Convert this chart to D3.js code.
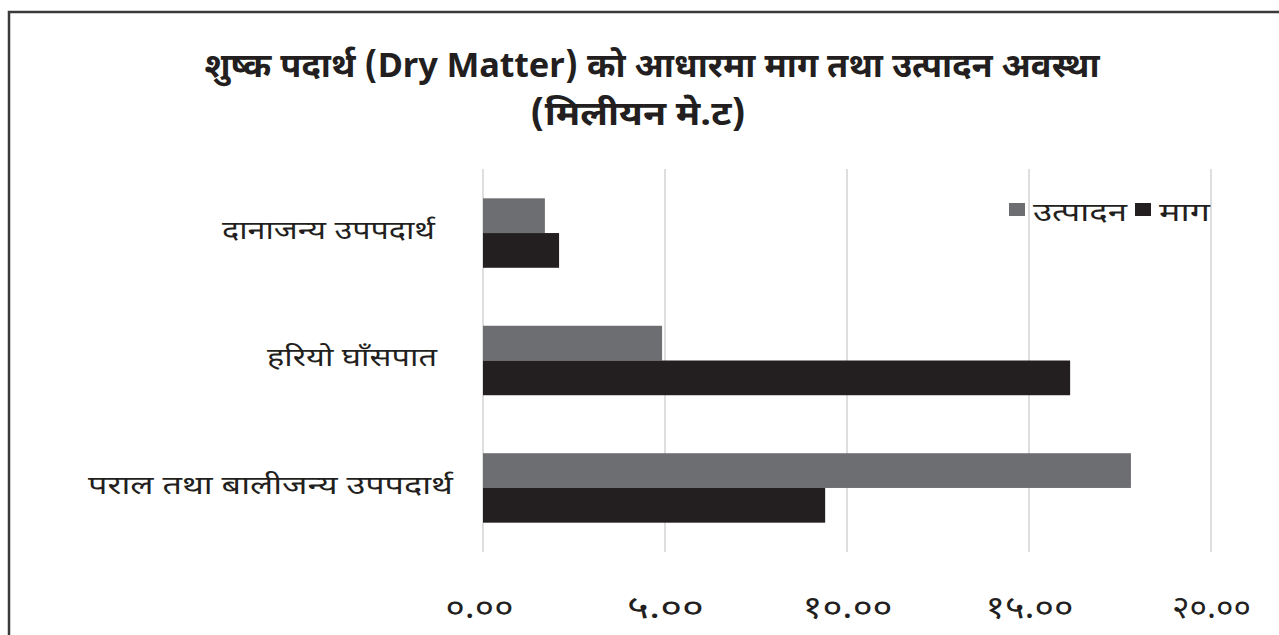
<!DOCTYPE html>
<html>
<head>
<meta charset="utf-8">
<script src="https://cdn.jsdelivr.net/npm/d3@7/dist/d3.min.js"></script>
<style>
  html, body { margin: 0; padding: 0; background: #fff; }
  svg { display: block; }
  text { font-family: "Noto Sans Devanagari", "Lohit Devanagari", "Noto Sans", sans-serif; fill: #231f20; }
</style>
</head>
<body>
<svg id="chart" width="1279" height="635"></svg>
<script>
const categories = ["दानाजन्य उपपदार्थ", "हरियो घाँसपात", "पराल तथा बालीजन्य उपपदार्थ"];
const seriesNames = ["उत्पादन", "माग"];
const productionValues = [1.70, 4.92, 17.80];
const demandValues = [2.09, 16.13, 9.40];
const tickValues = [0, 5, 10, 15, 20];
const tickLabels = ["०.००", "५.००", "१०.००", "१५.००", "२०.००"];
const titleLines = ["शुष्क पदार्थ (Dry Matter) को आधारमा माग तथा उत्पादन अवस्था", "(मिलीयन मे.ट)"];
const colors = ["#6d6e71", "#231f20"];

const labelBox = [[222, 213], [267, 170], [88, 365]];
const tickWidths = [68, 77, 90, 88, 79];
const titleBox = [[652, 895], [638, 216]];

const svg = d3.select("#chart");
const W = 1279, H = 635;
svg.append("rect").attr("width", W).attr("height", H).attr("fill", "#fff");

// frame (top and left visible)
svg.append("path").attr("d", `M9,${H} V12 H${W}`).attr("fill", "none")
  .attr("stroke", "#3a3a3a").attr("stroke-width", 2.5);

const plot = { left: 483, right: 1211, top: 169, bottom: 552 };
const x = d3.scaleLinear().domain([0, 20]).range([plot.left, plot.right]);
const y = d3.scaleBand().domain(categories).range([plot.top, plot.bottom]).paddingInner(0.455).paddingOuter(0.23);
const sub = d3.scaleBand().domain(seriesNames).range([0, y.bandwidth()]);

// gridlines
svg.append("g").selectAll("line").data(tickValues).join("line")
  .attr("x1", d => x(d)).attr("x2", d => x(d))
  .attr("y1", plot.top).attr("y2", plot.bottom)
  .attr("stroke", "#d3d3d3").attr("stroke-width", 1.5);

// x axis labels
const xAxis = d3.axisBottom(x).tickValues(tickValues).tickSize(0).tickFormat((d, i) => tickLabels[i]);
const gx = svg.append("g").attr("transform", `translate(0,${plot.bottom + 40})`).call(xAxis);
gx.select(".domain").remove();
gx.selectAll("text").attr("font-size", 32).attr("fill", "#231f20")
  .attr("dx", (d, i) => i === 0 ? -4 : 0)
  .attr("textLength", (d, i) => tickWidths[i])
  .attr("lengthAdjust", "spacingAndGlyphs")
  .style("font-family", '"Noto Sans Devanagari", "Lohit Devanagari", "Noto Sans", sans-serif');

// bars
const data = categories.map((c, i) => ({ cat: c, vals: [productionValues[i], demandValues[i]] }));
const groups = svg.append("g").selectAll("g").data(data).join("g")
  .attr("transform", d => `translate(0,${y(d.cat)})`);
groups.selectAll("rect").data(d => d.vals.map((v, j) => ({ v, s: seriesNames[j], j })))
  .join("rect")
  .attr("x", x(0))
  .attr("y", d => sub(d.s))
  .attr("width", d => x(d.v) - x(0))
  .attr("height", sub.bandwidth())
  .attr("fill", d => colors[d.j]);

// category labels
svg.append("g").selectAll("text").data(categories).join("text")
  .attr("x", (d, i) => labelBox[i][0])
  .attr("y", d => y(d) + y.bandwidth() / 2 - 3)
  .attr("dy", "0.35em")
  .attr("text-anchor", "start")
  .attr("font-size", 25)
  .attr("textLength", (d, i) => labelBox[i][1])
  .attr("lengthAdjust", "spacingAndGlyphs")
  .text(d => d);

// title
svg.append("g").selectAll("text").data(titleLines).join("text")
  .attr("x", (d, i) => titleBox[i][0] - titleBox[i][1] / 2)
  .attr("y", (d, i) => 77 + i * 48)
  .attr("text-anchor", "start")
  .attr("font-size", 34).attr("font-weight", "bold")
  .attr("textLength", (d, i) => titleBox[i][1])
  .attr("lengthAdjust", "spacingAndGlyphs")
  .text(d => d);

// legend
const legend = svg.append("g");
const legItems = [
  { name: seriesNames[0], color: colors[0], sx: 1009, tx: 1033, w: 94 },
  { name: seriesNames[1], color: colors[1], sx: 1135, tx: 1159, w: 51 }
];
legend.selectAll("rect").data(legItems).join("rect")
  .attr("x", d => d.sx).attr("y", 203).attr("width", 16).attr("height", 13)
  .attr("fill", d => d.color);
legend.selectAll("text").data(legItems).join("text")
  .attr("x", d => d.tx).attr("y", 212).attr("dy", "0.35em")
  .attr("font-size", 25)
  .attr("textLength", d => d.w)
  .attr("lengthAdjust", "spacingAndGlyphs")
  .text(d => d.name);
</script>
</body>
</html>
